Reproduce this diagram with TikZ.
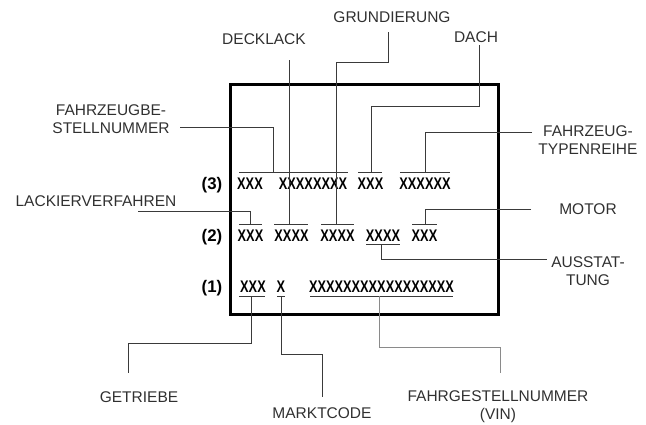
\documentclass[tikz,border=0pt]{standalone}
\usepackage{fontspec}
\setmainfont{Liberation Sans}
\newfontfamily\xfont[FakeStretch=0.76]{Liberation Sans}
\newfontfamily\rfont{Liberation Sans}
\definecolor{txt}{HTML}{303030}
\definecolor{ln}{HTML}{3A3A3A}
\definecolor{lnl}{HTML}{8A8A8A}
\tikzset{
  lbl/.style={inner sep=0pt, text=txt, align=center, font=\fontsize{15.5}{18}\selectfont},
  code/.style={inner sep=0pt, anchor=base, text=black, font=\xfont\bfseries\fontsize{16.8}{18}\selectfont},
  rowlbl/.style={inner sep=0pt, anchor=base, text=black, font=\rfont\bfseries\fontsize{16.8}{18}\selectfont},
  bar/.style={draw=ln, line width=0.9pt},
  conn/.style={draw=ln, line width=1pt},
  connl/.style={draw=lnl, line width=1pt},
  frame/.style={draw=black, line width=2.6pt}
}
\begin{document}
\begin{tikzpicture}[x=1pt,y=-1pt]
\useasboundingbox (0,0) rectangle (646,424);
% frame
\node[frame, inner sep=0pt, minimum width=268pt, minimum height=230pt, anchor=north west] (plate) at (229,83) {};
% labels
\node[lbl] (deck) at (264,39) {DECKLACK};
\node[lbl] (grund) at (392,17) {GRUNDIERUNG};
\node[lbl] (dach) at (476,37) {DACH};
\node[lbl] (fzb) at (111,119) {FAHRZEUGBE-\\STELLNUMMER};
\node[lbl] (typ) at (588,140) {FAHRZEUG-\\TYPENREIHE};
\node[lbl] (lack) at (96,201) {LACKIERVERFAHREN};
\node[lbl] (motor) at (588,209) {MOTOR};
\node[lbl] (aus) at (588,271) {AUSSTAT-\\TUNG};
\node[lbl] (getr) at (139,397) {GETRIEBE};
\node[lbl] (markt) at (322,413) {MARKTCODE};
\node[lbl] (vin) at (498,406.5) {FAHRGESTELLNUMMER\\(VIN)};
% row labels
\node[rowlbl] (r3) at (212,189) {(3)};
\node[rowlbl] (r2) at (212,241) {(2)};
\node[rowlbl] (r1) at (212,292) {(1)};
% codes row 3
\node[code] (c3a) at (250,189) {XXX};
\node[code] (c3b) at (313,189) {XXXXXXXX};
\node[code] (c3c) at (370.5,189) {XXX};
\node[code] (c3d) at (425,189) {XXXXXX};
% codes row 2
\node[code] (c2a) at (250.5,241) {XXX};
\node[code] (c2b) at (291.5,241) {XXXX};
\node[code] (c2c) at (337.5,241) {XXXX};
\node[code] (c2d) at (383,241) {XXXX};
\node[code] (c2e) at (424.5,241) {XXX};
% codes row 1
\node[code] (c1a) at (253,292) {XXX};
\node[code] (c1b) at (281,292) {X};
\node[code] (c1c) at (381.5,292) {XXXXXXXXXXXXXXXXX};
% bars
\coordinate (b3a1) at (239,172); \coordinate (b3a2) at (348,172);
\coordinate (b3c1) at (358,172); \coordinate (b3c2) at (382,172);
\coordinate (b3d1) at (400,172); \coordinate (b3d2) at (450,172);
\coordinate (b2a1) at (239,224); \coordinate (b2a2) at (262,224);
\coordinate (b2b1) at (274,224); \coordinate (b2b2) at (308,224);
\coordinate (b2c1) at (321,224); \coordinate (b2c2) at (354,224);
\coordinate (b2e1) at (412,224); \coordinate (b2e2) at (437,224);
\coordinate (b2d1) at (366,244); \coordinate (b2d2) at (400,244);
\coordinate (b1a1) at (239,296); \coordinate (b1a2) at (265,296);
\coordinate (b1b1) at (277,296); \coordinate (b1b2) at (285,296);
\coordinate (b1c1) at (310,296); \coordinate (b1c2) at (453,296);
\path[bar] (b3a1) -- (b3a2) (b3c1) -- (b3c2) (b3d1) -- (b3d2)
  (b2a1) -- (b2a2) (b2b1) -- (b2b2) (b2c1) -- (b2c2) (b2e1) -- (b2e2)
  (b2d1) -- (b2d2)
  (b1a1) -- (b1a2) (b1b1) -- (b1b2) (b1c1) -- (b1c2);
% connector end points
\coordinate (fzbS) at (180,127); \coordinate (fzbE) at (273,172);
\coordinate (deckS) at (289,60); \coordinate (deckE) at (289,224);
\coordinate (grundS) at (388,32); \coordinate (grundK) at (336,62); \coordinate (grundE) at (336,224);
\coordinate (dachS) at (479,45); \coordinate (dachK) at (371,106); \coordinate (dachE) at (371,172);
\coordinate (typS) at (532,132); \coordinate (typE) at (425,172);
\coordinate (lackS) at (138,211); \coordinate (lackE) at (250,224);
\coordinate (motorS) at (531,209); \coordinate (motorE) at (425,224);
\coordinate (ausS) at (381,244); \coordinate (ausE) at (547,259);
\coordinate (getrS) at (251,296); \coordinate (getrK) at (128,343); \coordinate (getrE) at (128,373);
\coordinate (marktS) at (281,296); \coordinate (marktK) at (322,354); \coordinate (marktE) at (322,397);
\coordinate (vinS) at (379,296); \coordinate (vinK) at (500,347); \coordinate (vinE) at (500,373);
% connectors
\path[conn] (fzbS) -| (fzbE);
\path[conn] (deckS) -- (deckE);
\path[conn] (grundS) |- (grundK) -- (grundE);
\path[conn] (dachS) |- (dachK) -- (dachE);
\path[conn] (typS) -| (typE);
\path[conn] (lackS) -| (lackE);
\path[conn] (motorS) -| (motorE);
\path[conn] (ausS) |- (ausE);
\path[conn] (getrS) |- (getrK) -- (getrE);
\path[conn] (marktS) |- (marktK) -- (marktE);
\path[connl] (vinS) |- (vinK) -- (vinE);
\end{tikzpicture}
\end{document}
